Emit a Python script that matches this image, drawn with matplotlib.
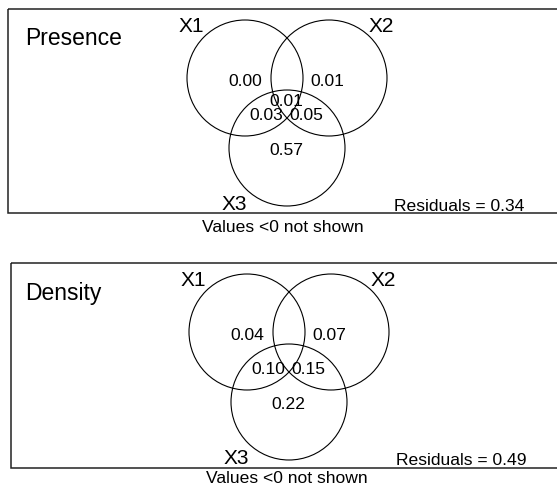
import matplotlib
matplotlib.use("Agg")
import matplotlib.pyplot as plt
from matplotlib.patches import Circle, Rectangle

plt.rcParams["font.family"] = ["Liberation Sans", "DejaVu Sans"]

# Variation partitioning fractions (adjusted R2) for each response.
# Region order: X1 only, X2 only, X1&X2, X1&X2&X3, X1&X3, X2&X3, X3 only
# None marks a negative fraction, which is not drawn.
region_names = ["X1", "X2", "X1X2", "X1X2X3", "X1X3", "X2X3", "X3"]
set_names = ["X1", "X2", "X3"]
panel_titles = ["Presence", "Density"]
presence_fractions = [0.00, 0.01, None, 0.01, 0.03, 0.05, 0.57]
density_fractions = [0.04, 0.07, None, None, 0.10, 0.15, 0.22]
residuals = [0.34, 0.49]
footnote = "Values <0 not shown"

# ---- layout (pixel space of a 557 x 487 canvas) ----
W, H = 557, 487
RADIUS = 58
circle_centres = [(245, 78), (329, 78), (287, 148)]
# baseline positions of the fraction labels for each region
region_label_pos = [(245, 86), (327, 86), (287, 66), (286, 106),
                    (266, 120), (306, 120), (286, 155)]
set_label_pos = [(191, 32), (381, 32), (234, 210)]
panel_offsets = [(0, 0), (2, 254)]
box_extent = [(8, 9, 213), (10.5, 263, 468)]          # left, top, bottom
footnote_pos = [(283, 232), (287, 483)]
title_pos = [(25, 45), (25, 300)]
resid_pos = [(394, 211), (396, 465)]

fig = plt.figure(figsize=(W / 100, H / 100), dpi=100)
ax = fig.add_axes([0, 0, 1, 1])
ax.set_xlim(0, W)
ax.set_ylim(H, 0)
ax.axis("off")

all_fractions = [presence_fractions, density_fractions]

for p, title in enumerate(panel_titles):
    dx, dy = panel_offsets[p]
    left, top, bottom = box_extent[p]
    ax.add_patch(Rectangle((left, top), W + 20 - left, bottom - top,
                           fill=False, edgecolor="#222222", lw=1.1))

    for cx, cy in circle_centres:
        ax.add_patch(Circle((cx + dx, cy + dy), RADIUS, fill=False,
                            edgecolor="black", lw=0.8))

    for name, (x, y) in zip(set_names, set_label_pos):
        ax.text(x + dx, y + dy, name, fontsize=15, ha="center",
                va="baseline")

    for val, (x, y) in zip(all_fractions[p], region_label_pos):
        if val is None or val < 0:
            continue
        ax.text(x + dx, y + dy, f"{val:.2f}", fontsize=12.6, ha="center",
                va="baseline")

    tx, ty = title_pos[p]
    ax.text(tx, ty, title, fontsize=16.5, ha="left", va="baseline")

    rx, ry = resid_pos[p]
    ax.text(rx, ry, f"Residuals = {residuals[p]:.2f}", fontsize=12.6,
            ha="left", va="baseline")

    fx, fy = footnote_pos[p]
    ax.text(fx, fy, footnote, fontsize=12.6, ha="center", va="baseline")

fig.savefig("out.png", dpi=100)
